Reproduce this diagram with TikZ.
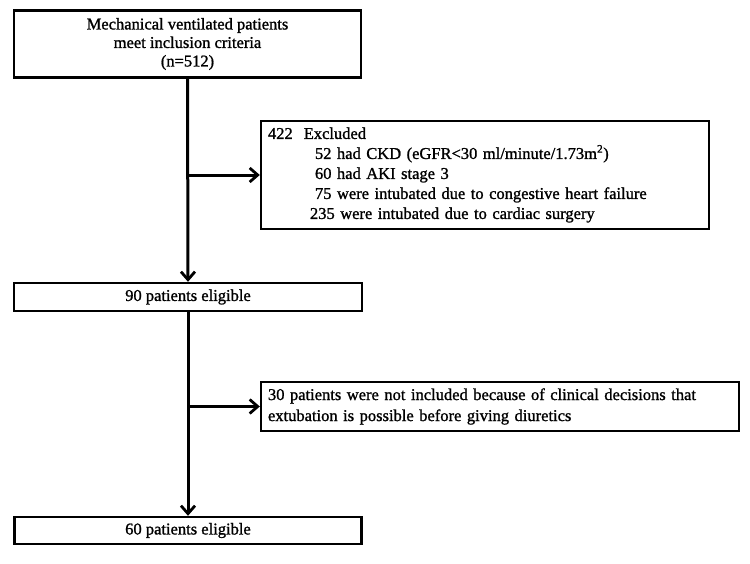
\documentclass[tikz,border=0pt]{standalone}
\usepackage{fontspec}
\setmainfont[FakeBold=1.2]{Liberation Serif}
\usetikzlibrary{arrows.meta}
\begin{document}
\begin{tikzpicture}[x=1pt,y=-1pt,
  box/.style={draw=black, line width=2.4pt, rectangle, inner sep=0pt,
    font=\fontsize{16.5}{18.5}\selectfont},
  flow/.style={line width=3pt, -{Straight Barb[length=8pt,width=14pt,line width=2.8pt]}}]
\useasboundingbox (0,0) rectangle (750,563);
\node[box, minimum width=347pt, minimum height=67pt, align=center] (top) at (187.5,44)
  {Mechanical ventilated patients\\meet inclusion criteria\\(n=512)};
\node[box, minimum width=348pt, minimum height=28pt] (e90) at (188,297) {90 patients eligible};
\node[box, minimum width=347pt, minimum height=27pt] (e60) at (188,530.5) {60 patients eligible};
\node[box, minimum width=448pt, minimum height=108pt, align=left, text width=434pt,
  font=\fontsize{16.5}{20}\selectfont] (ex1) at (485,175)
  {422\hspace{11pt}Excluded\\
   \hspace{47pt}52 had CKD (eGFR<30 ml/minute/1.73m\textsuperscript{2})\\
   \hspace{47pt}60 had AKI stage 3\\
   \hspace{47pt}75 were intubated due to congestive heart failure\\
   \hspace{42pt}235 were intubated due to cardiac surgery};
\node[box, minimum width=478pt, minimum height=49pt, align=left, text width=464pt,
  font=\fontsize{16.5}{21}\selectfont] (ex2) at (500,406.5)
  {30 patients were not included because of clinical decisions that\\
   extubation is possible before giving diuretics};
\coordinate (b1) at (top.south |- ex1.west);
\coordinate (b2) at (e90.south |- ex2.west);
\draw[flow] (top.south) -- (e90.north);
\draw[flow] (b1) -- (ex1.west);
\draw[flow] (e90.south) -- (e60.north);
\draw[flow] (b2) -- (ex2.west);
\end{tikzpicture}
\end{document}
